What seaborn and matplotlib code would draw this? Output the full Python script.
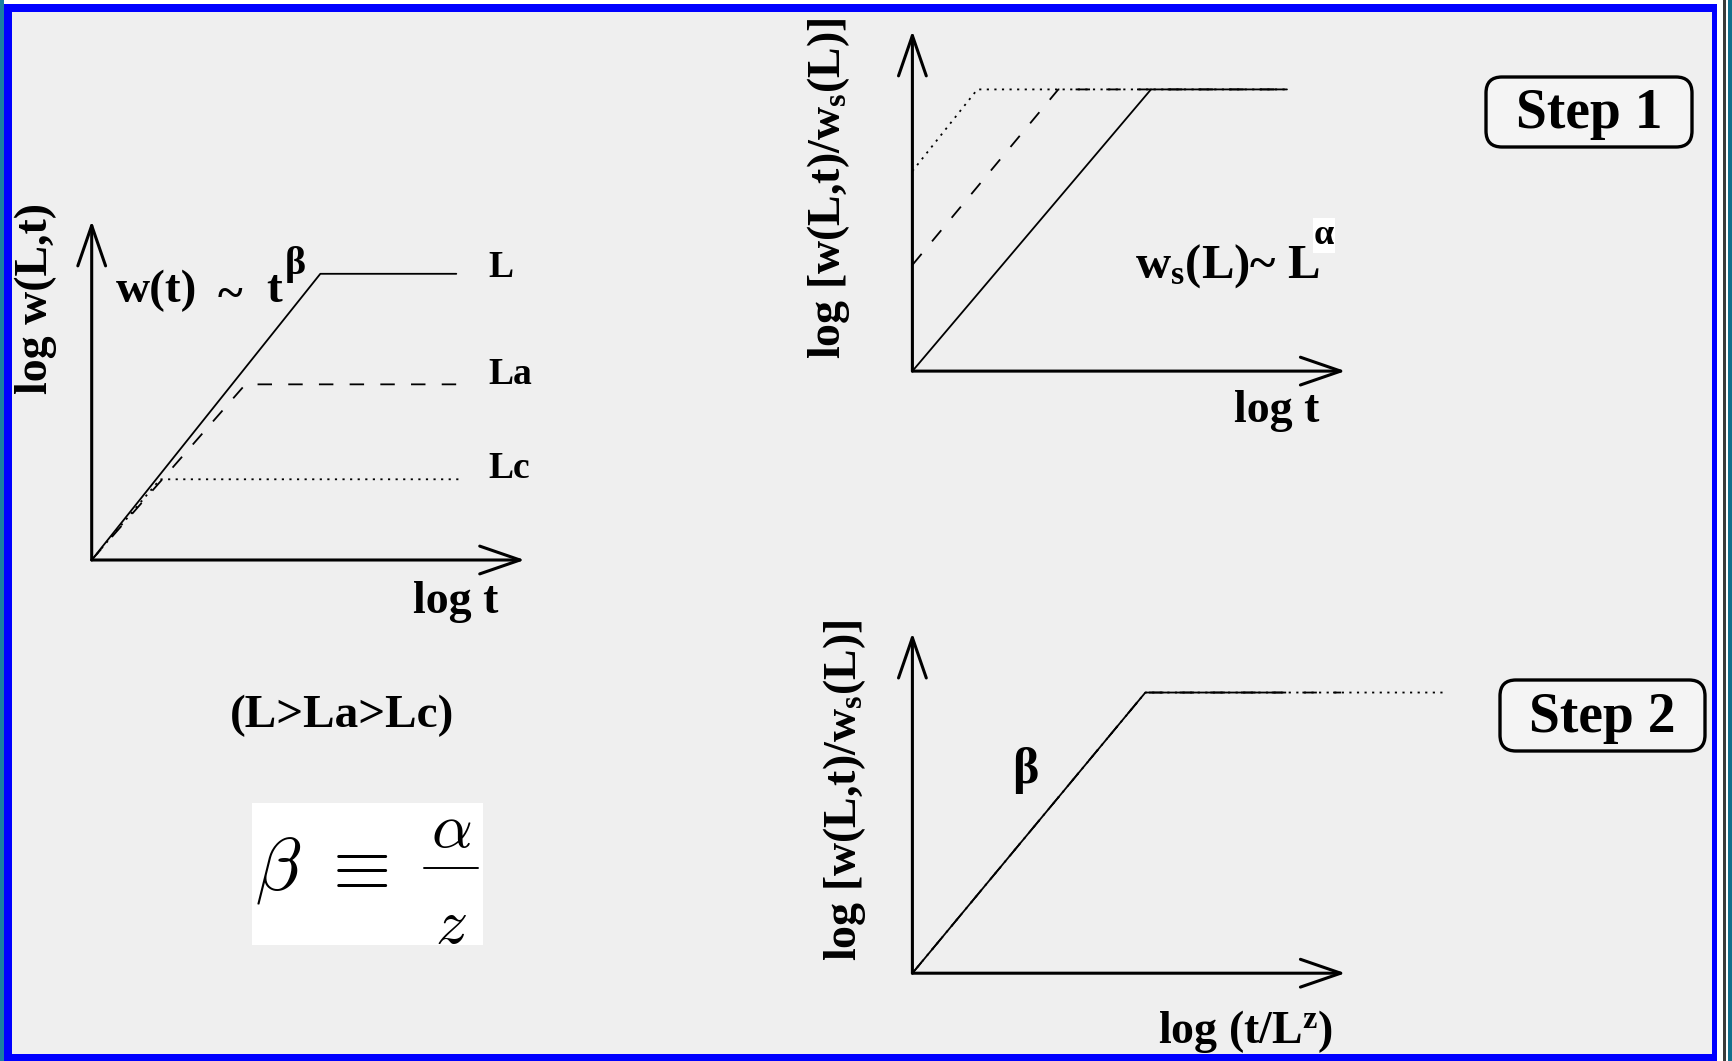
import matplotlib
matplotlib.use("Agg")
import matplotlib.pyplot as plt
import seaborn as sns
import pandas as pd
from matplotlib.patches import Rectangle, FancyBboxPatch

# ---------------------------------------------------------------
# Schematic growth curves (log units, origin = 0, arrow tip = 1)
# ---------------------------------------------------------------
sizes = ["L", "La", "Lc"]
size_styles = {"L": "-", "La": "--", "Lc": ":"}

# Panel 1: log w(L,t) against log t
p1_logt = {"L": [0.0, 0.528, 0.842], "La": [0.0, 0.355, 0.857], "Lc": [0.0, 0.158, 0.855]}
p1_logw = {"L": [0.0, 0.844, 0.844], "La": [0.0, 0.518, 0.518], "Lc": [0.0, 0.238, 0.238]}

# Panel 2 (step 1): w divided by the saturation width w_s(L)
p2_logt = {"L": [0.0, 0.551, 0.865], "La": [0.0, 0.337, 0.865], "Lc": [0.0, 0.150, 0.865]}
p2_logw = {"L": [0.0, 0.828, 0.828], "La": [0.312, 0.828, 0.828], "Lc": [0.588, 0.828, 0.828]}

# Panel 3 (step 2): time rescaled by L^z, all sizes collapse
p3_logt = {"L": [0.0, 0.538, 0.852], "La": [0.0, 0.538, 0.990], "Lc": [0.0, 0.538, 1.235]}
p3_logw = {"L": [0.0, 0.825, 0.825], "La": [0.0, 0.825, 0.825], "Lc": [0.0, 0.825, 0.825]}

size_labels = ["L", "La", "Lc"]

# ---------------------------------------------------------------
sns.set_theme(style="white")
plt.rcParams["font.family"] = ["Liberation Serif", "DejaVu Serif"]
plt.rcParams["font.weight"] = "bold"
plt.rcParams["mathtext.fontset"] = "custom"
plt.rcParams["mathtext.rm"] = "Liberation Serif:bold"
plt.rcParams["mathtext.it"] = "Liberation Serif:italic:bold"
plt.rcParams["mathtext.bf"] = "Liberation Serif:bold"

W, H = 1732, 1061
fig = plt.figure(figsize=(W / 100, H / 100), dpi=100)
fig.patch.set_facecolor("white")

bg = fig.add_axes([0, 0, 1, 1])
bg.set_xlim(0, W)
bg.set_ylim(H, 0)
bg.axis("off")

# window frame
bg.add_patch(Rectangle((0, 0), 4, H, color="#1a7fa3", lw=0))
bg.add_patch(Rectangle((1728, 0), 4, H, color="#136f8c", lw=0))
bg.add_patch(Rectangle((1723, 0), 2.5, H, color="#3a3a3a", lw=0))
bg.add_patch(Rectangle((4, 4), 1713, H - 4, color="#0000ff", lw=0))
bg.add_patch(Rectangle((12, 12), 1700, 1042, color="#efefef", lw=0))

AX_LW = 2.2
CURVE_LW = 1.3


def panel(ox, oy, tx, ty):
    ax = fig.add_axes([ox / W, 1 - oy / H, (tx - ox) / W, (oy - ty) / H])
    ax.set_xlim(0, 1)
    ax.set_ylim(0, 1)
    ax.axis("off")
    ax.patch.set_alpha(0)
    for end in [(1, 0), (0, 1)]:
        ax.annotate("", xy=end, xytext=(0, 0),
                    arrowprops=dict(arrowstyle="->,head_length=29,head_width=10",
                                    mutation_scale=1, lw=AX_LW, color="black",
                                    shrinkA=0, shrinkB=0),
                    annotation_clip=False)
    return ax


def draw_curves(ax, xs, ys):
    for s in sizes:
        df = pd.DataFrame({"x": xs[s], "y": ys[s]})
        ls = size_styles[s]
        kw = {}
        if ls == "--":
            kw["dashes"] = (8, 9)
        elif ls == ":":
            kw["dashes"] = (1.2, 3.0)
        sns.lineplot(data=df, x="x", y="y", ax=ax, sort=False, estimator=None,
                     color="black", lw=CURVE_LW, clip_on=False, **kw)
    ax.set_xlabel("")
    ax.set_ylabel("")


ax1 = panel(91.7, 560.0, 524.7, 220.9)
draw_curves(ax1, p1_logt, p1_logw)
ax2 = panel(912.4, 371.1, 1345.4, 30.9)
draw_curves(ax2, p2_logt, p2_logw)
ax3 = panel(912.4, 973.2, 1345.4, 633.0)
draw_curves(ax3, p3_logt, p3_logw)

# ---------------- text: panel 1 ----------------
T = dict(color="black", fontweight="bold")
bg.text(36, 298, "log w(L,t)", rotation=90, ha="center", va="center", fontsize=33, **T)
bg.text(116, 302, "w(t)", ha="left", va="baseline", fontsize=34, **T)
bg.text(230, 308, "~", ha="center", va="baseline", fontsize=34, **T)
bg.text(266, 302, "t", ha="left", va="baseline", fontsize=34, **T)
bg.text(285, 274, "β", ha="left", va="baseline", fontsize=29, **T)
for lab, yb in zip(size_labels, [277, 384, 478]):
    bg.text(488, yb, lab, ha="left", va="baseline", fontsize=27, **T)
bg.text(456, 613, "log t", ha="center", va="baseline", fontsize=33, **T)
bg.text(342, 727, "(L>La>Lc)", ha="center", va="baseline", fontsize=34, **T)

# beta = alpha / z
bg.add_patch(Rectangle((252, 803), 231, 142, color="white", lw=0))
bg.text(322, 870, r"$\beta\ \equiv$", ha="center", va="center", fontsize=54,
        math_fontfamily="cm", color="black")
bg.plot([424, 478], [868, 868], color="black", lw=1.4)
bg.text(451, 847, r"$\alpha$", ha="center", va="baseline", fontsize=46,
        math_fontfamily="cm", color="black")
bg.text(451, 928, r"$z$", ha="center", va="center", fontsize=46,
        math_fontfamily="cm", color="black")

# ---------------- text: panel 2 ----------------
bg.text(828, 188, r"log [w(L,t)/w$_{\mathrm{s}}$(L)]", rotation=90,
        ha="center", va="center", fontsize=33, **T)
bg.text(1320, 278, r"w$_{\mathrm{s}}$(L)~ L", ha="right", va="baseline", fontsize=35, **T)
bg.text(1314, 244, "α", ha="left", va="baseline", fontsize=26,
        bbox=dict(facecolor="white", edgecolor="none", pad=0.5), **T)
bg.text(1277, 422, "log t", ha="center", va="baseline", fontsize=33, **T)

# ---------------- text: panel 3 ----------------
bg.text(844, 790, r"log [w(L,t)/w$_{\mathrm{s}}$(L)]", rotation=90,
        ha="center", va="center", fontsize=33, **T)
bg.text(1025, 770, "β", ha="center", va="center", fontsize=36, **T)
bg.text(1245, 1043, r"log (t/L$^{\mathrm{z}}$)", ha="center", va="baseline", fontsize=33, **T)

# ---------------- step badges ----------------
for (x0, y0, x1, y1, txt) in [(1486, 77, 1692, 147, "Step 1"), (1500, 680, 1705, 751, "Step 2")]:
    bg.add_patch(FancyBboxPatch((x0, y0), x1 - x0, y1 - y0,
                                boxstyle="round,pad=0,rounding_size=16",
                                fc="#f4f4f4", ec="black", lw=2.4))
    bg.text((x0 + x1) / 2, (y0 + y1) / 2 + 2, txt, ha="center", va="center",
            fontsize=40, **T)

fig.savefig("out.png", dpi=100, facecolor=fig.get_facecolor())
